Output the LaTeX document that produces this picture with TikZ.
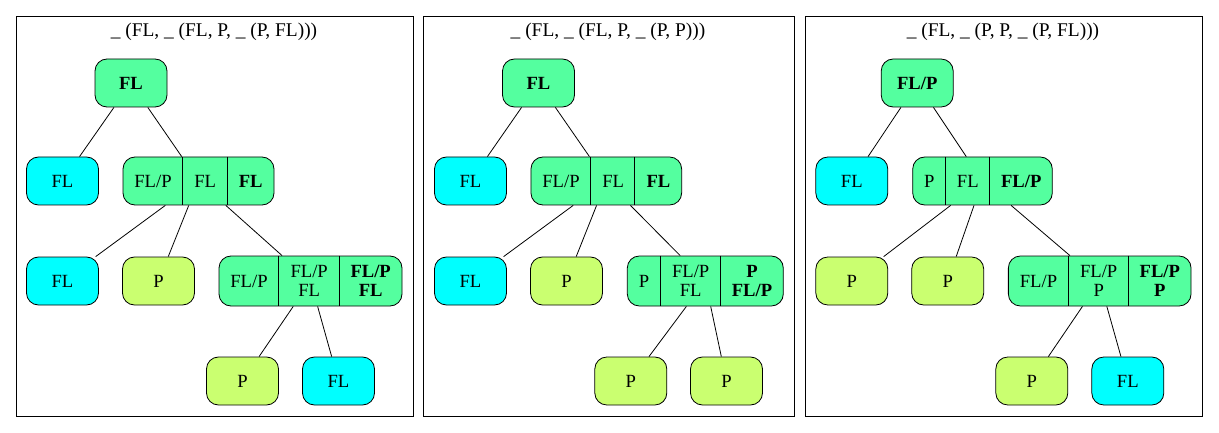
\documentclass[tikz,border=0pt]{standalone}
\usepackage{fontspec}
\setmainfont{Liberation Serif}
\definecolor{grn}{RGB}{84,255,159}
\definecolor{cyn}{RGB}{0,255,255}
\definecolor{ylw}{RGB}{202,255,112}
\begin{document}
\begin{tikzpicture}[x=1pt,y=-1pt,
  box/.style={draw, line width=0.8pt, rounded corners=12pt, minimum width=72pt, minimum height=48pt, inner sep=0pt, font=\fontsize{18.6}{19.5}\selectfont},
  gr/.style={box, fill=grn},
  cy/.style={box, fill=cyn},
  yl/.style={box, fill=ylw},
  rec/.style={gr, minimum width=#1},
  cell/.style={inner sep=0pt, align=center, font=\fontsize{18.6}{19.5}\selectfont},
  divider/.style={line width=0.8pt},
  panel/.style={draw, line width=0.8pt, inner sep=0pt},
  ttl/.style={inner sep=0pt, font=\fontsize{19.4}{20}\selectfont},
  edge/.style={line width=0.8pt}]
\useasboundingbox (0,0) rectangle (1219,433);

% ---------- panels ----------
\node[panel, minimum width=397pt, minimum height=400pt] (p1) at (214.5,216) {};
\node[panel, minimum width=371pt, minimum height=400pt] (p2) at (608.8,216) {};
\node[panel, minimum width=397.7pt, minimum height=400pt] (p3) at (1003.85,216) {};
\node[ttl] (t1) at (214,31.5) {\_ (FL, \_ (FL, P, \_ (P, FL)))};
\node[ttl] (t2) at (608,31.5) {\_ (FL, \_ (FL, P, \_ (P, P)))};
\node[ttl] (t3) at (1003,31.5) {\_ (FL, \_ (P, P, \_ (P, FL)))};

% ---------- panel 1 ----------
\node[gr] (r1) at (131,83) {\textbf{FL}};
\node[cy] (n1a) at (62.5,181) {FL};
\node[rec=151pt] (b1) at (198.5,181) {};
\draw[divider] ([xshift=60pt]b1.north west) -- ([xshift=60pt]b1.south west);
\draw[divider] ([xshift=104.3pt]b1.north west) -- ([xshift=104.3pt]b1.south west);
\node[cell] (b1x) at (153,181) {FL/P};
\node[cell] (b1y) at (205.2,181) {FL};
\node[cell] (b1z) at (250.7,181) {\textbf{FL}};
\node[cy] (n1c) at (62.5,281) {FL};
\node[yl] (n1d) at (158.5,281) {P};
\node[rec=183pt, minimum height=50pt] (e1) at (310.5,281) {};
\draw[divider] ([xshift=60pt]e1.north west) -- ([xshift=60pt]e1.south west);
\draw[divider] ([xshift=120.3pt]e1.north west) -- ([xshift=120.3pt]e1.south west);
\node[cell] (e1x) at (249,281) {FL/P};
\node[cell] (e1y) at (309.2,281) {FL/P\\FL};
\node[cell] (e1z) at (370.7,281) {\textbf{FL/P}\\\textbf{FL}};
\node[yl] (n1f) at (242.5,381) {P};
\node[cy] (n1g) at (338.5,381) {FL};
\draw[edge] (r1) -- (n1a);
\draw[edge] (r1) -- (b1);
\draw[edge] (b1) -- (n1c);
\draw[edge] (b1) -- (n1d);
\draw[edge] (b1) -- (e1);
\draw[edge] (e1) -- (n1f);
\draw[edge] (e1) -- (n1g);

% ---------- panel 2 ----------
\node[gr] (r2) at (538.5,83) {\textbf{FL}};
\node[cy] (n2a) at (470.5,181) {FL};
\node[rec=150.7pt] (b2) at (606.3,181) {};
\draw[divider] ([xshift=60pt]b2.north west) -- ([xshift=60pt]b2.south west);
\draw[divider] ([xshift=104.3pt]b2.north west) -- ([xshift=104.3pt]b2.south west);
\node[cell] (b2x) at (561,181) {FL/P};
\node[cell] (b2y) at (613.2,181) {FL};
\node[cell] (b2z) at (658.5,181) {\textbf{FL}};
\node[cy] (n2c) at (470.5,281) {FL};
\node[yl] (n2d) at (566.5,281) {P};
\node[rec=156pt, minimum height=50pt] (e2) at (705.3,281) {};
\draw[divider] ([xshift=33.4pt]e2.north west) -- ([xshift=33.4pt]e2.south west);
\draw[divider] ([xshift=93.4pt]e2.north west) -- ([xshift=93.4pt]e2.south west);
\node[cell] (e2x) at (644,281) {P};
\node[cell] (e2y) at (690.7,281) {FL/P\\FL};
\node[cell] (e2z) at (752,281) {\textbf{P}\\\textbf{FL/P}};
\node[yl] (n2f) at (630.8,381) {P};
\node[yl] (n2g) at (726.5,381) {P};
\draw[edge] (r2) -- (n2a);
\draw[edge] (r2) -- (b2);
\draw[edge] (b2) -- (n2c);
\draw[edge] (b2) -- (n2d);
\draw[edge] (b2) -- (e2);
\draw[edge] (e2) -- (n2f);
\draw[edge] (e2) -- (n2g);

% ---------- panel 3 ----------
\node[gr] (r3) at (917.2,83) {\textbf{FL/P}};
\node[cy] (n3a) at (851.8,181) {FL};
\node[rec=139.6pt] (b3) at (982.5,181) {};
\draw[divider] ([xshift=33pt]b3.north west) -- ([xshift=33pt]b3.south west);
\draw[divider] ([xshift=77.3pt]b3.north west) -- ([xshift=77.3pt]b3.south west);
\node[cell] (b3x) at (929.2,181) {P};
\node[cell] (b3y) at (967.8,181) {FL};
\node[cell] (b3z) at (1021.2,181) {\textbf{FL/P}};
\node[yl] (n3c) at (851.8,281) {P};
\node[yl] (n3d) at (947.7,281) {P};
\node[rec=182.7pt, minimum height=50pt] (e3) at (1099.7,281) {};
\draw[divider] ([xshift=60.4pt]e3.north west) -- ([xshift=60.4pt]e3.south west);
\draw[divider] ([xshift=120.4pt]e3.north west) -- ([xshift=120.4pt]e3.south west);
\node[cell] (e3x) at (1038.5,281) {FL/P};
\node[cell] (e3y) at (1098.7,281) {FL/P\\P};
\node[cell] (e3z) at (1159.8,281) {\textbf{FL/P}\\\textbf{P}};
\node[yl] (n3f) at (1031.8,381) {P};
\node[cy] (n3g) at (1127.8,381) {FL};
\draw[edge] (r3) -- (n3a);
\draw[edge] (r3) -- (b3);
\draw[edge] (b3) -- (n3c);
\draw[edge] (b3) -- (n3d);
\draw[edge] (b3) -- (e3);
\draw[edge] (e3) -- (n3f);
\draw[edge] (e3) -- (n3g);
\end{tikzpicture}
\end{document}
